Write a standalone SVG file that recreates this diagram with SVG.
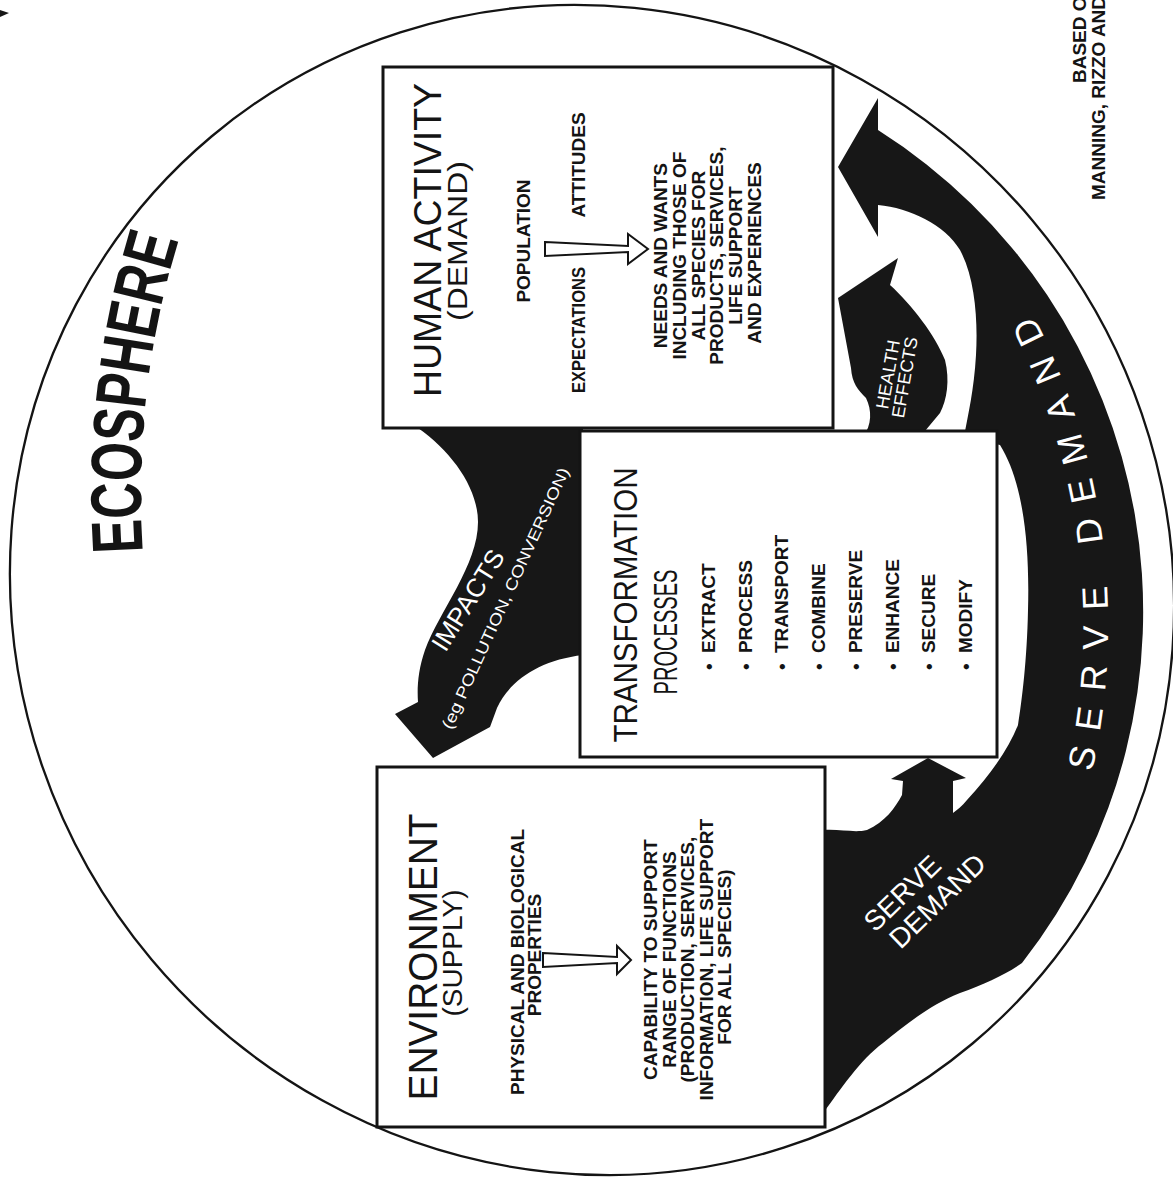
<svg xmlns="http://www.w3.org/2000/svg" width="1173" height="1190" viewBox="0 0 1173 1190">
<style>
text{font-family:'Liberation Sans',Arial,Helvetica,sans-serif;fill:#141414}
.box{fill:#fff;stroke:#141414;stroke-width:3}
.ink{fill:#171717}
.b{font-weight:bold;font-size:19px}
.w{fill:#fff}
.ha{fill:#fff;stroke:#141414;stroke-width:2}
</style>
<defs>
<path id="ecoPath" d="M 143 552 Q 132 390 180 236" fill="none"/>
<path id="sdPath" d="M 1092 772 A 680 680 0 0 0 1003 262" fill="none"/>
</defs>
<rect width="1173" height="1190" fill="#fff"/>
<ellipse id="ecosphere-boundary" cx="592" cy="590" rx="592" ry="575" transform="rotate(50 592 590)" fill="none" stroke="#141414" stroke-width="2.3"/>
<polygon points="0,10 9,13 0,17" class="ink"/>

<g id="ecosphere">
<text font-size="72" font-weight="bold"><textPath href="#ecoPath" textLength="316" lengthAdjust="spacingAndGlyphs">ECOSPHERE</textPath></text>
</g>

<g id="connectors">
<path id="impacts-arrow" class="ink" d="M 418 428 C 452 452, 478 488, 478 522 C 478 565, 440 610, 425 650 C 418 670, 417 688, 418 702 L 395 714 L 433 758 L 490 727 L 497 708 C 510 680, 540 660, 583 655 L 583 428 Z"/>
<path id="serve-demand-arrow" class="ink" d="M 824 1112 C 840 1090, 860 1060, 883 1043 C 905 1025, 930 1005, 960 993 C 985 984, 1005 975, 1022 963 A 570 570 0 0 0 878 130 L 878 98 L 838 167 L 878 237 L 878 205 C 910 208, 945 225, 960 250 C 975 278, 978 320, 976 355 C 974 390, 968 415, 964 437 L 1000 445 C 1022 480, 1030 540, 1028 610 C 1027 660, 1022 700, 1018 725 C 1008 750, 990 775, 967 800 C 962 806, 957 810, 953 813 L 953 781 L 966 778 L 928 758 L 891 779 L 903 781 L 902 795 C 895 808, 885 822, 867 830 C 855 833, 840 829, 824 830 Z"/>
<path id="health-effects-arrow" class="ink" d="M 863 437 C 872 425, 872 410, 866 398 C 858 390, 852 383, 851 368 L 838 298 L 898 258 L 890 285 C 912 305, 935 335, 945 360 C 950 380, 947 400, 940 413 L 920 437 Z"/>
<text class="w" font-size="26" transform="translate(468 600) rotate(-58)" text-anchor="middle" y="9">IMPACTS</text>
<text class="w" font-size="16" transform="translate(505 598) rotate(-65.5)" text-anchor="middle" y="6" textLength="285" lengthAdjust="spacingAndGlyphs">(eg POLLUTION, CONVERSION)</text>
<text class="w" font-size="18" transform="translate(897 376) rotate(-80)" text-anchor="middle"><tspan x="0" y="-3">HEALTH</tspan><tspan x="0" y="14">EFFECTS</tspan></text>
<text class="w" font-size="36"><textPath href="#sdPath" textLength="470" lengthAdjust="spacing">SERVE DEMAND</textPath></text>
<text class="w" font-size="28" transform="translate(902 893) rotate(-44)" text-anchor="middle"><tspan x="0" y="10">SERVE</tspan><tspan x="20" y="40">DEMAND</tspan></text>
</g>

<g id="human-activity">
<rect class="box" x="383" y="67" width="450" height="361"/>
<text font-size="39" transform="translate(441 240) rotate(-90)" text-anchor="middle" textLength="314" lengthAdjust="spacingAndGlyphs">HUMAN ACTIVITY</text>
<text font-size="27" transform="translate(467 241) rotate(-90)" text-anchor="middle" textLength="160" lengthAdjust="spacingAndGlyphs">(DEMAND)</text>
<text class="b" transform="translate(530 241) rotate(-90)" text-anchor="middle">POPULATION</text>
<text class="b" transform="translate(585 330) rotate(-90)" text-anchor="middle" textLength="126" lengthAdjust="spacingAndGlyphs">EXPECTATIONS</text>
<text class="b" transform="translate(585 165) rotate(-90)" text-anchor="middle">ATTITUDES</text>
<path class="ha" d="M545 242 L628 246 L628 234 L648 249 L628 264 L628 252 L545 256 Z"/>
<text class="b" transform="translate(0 253) rotate(-90)" text-anchor="middle">
<tspan x="0" y="667">NEEDS AND WANTS</tspan>
<tspan x="0" y="686">INCLUDING THOSE OF</tspan>
<tspan x="0" y="704.5">ALL SPECIES FOR</tspan>
<tspan x="0" y="723">PRODUCTS, SERVICES,</tspan>
<tspan x="0" y="742">LIFE SUPPORT</tspan>
<tspan x="0" y="761">AND EXPERIENCES</tspan>
</text>
</g>

<g id="transformation-processes">
<rect class="box" x="580" y="431" width="417" height="326"/>
<text font-size="33" transform="translate(637 605) rotate(-90)" text-anchor="middle" textLength="275" lengthAdjust="spacingAndGlyphs">TRANSFORMATION</text>
<text font-size="33" transform="translate(677 632) rotate(-90)" text-anchor="middle" textLength="125" lengthAdjust="spacingAndGlyphs">PROCESSES</text>
<text class="b" transform="translate(0 670) rotate(-90)">
<tspan x="0" y="715">• <tspan dx="5">EXTRACT</tspan></tspan>
<tspan x="0" y="751.7">• <tspan dx="5">PROCESS</tspan></tspan>
<tspan x="0" y="788.4">• <tspan dx="5">TRANSPORT</tspan></tspan>
<tspan x="0" y="825.1">• <tspan dx="5">COMBINE</tspan></tspan>
<tspan x="0" y="861.8">• <tspan dx="5">PRESERVE</tspan></tspan>
<tspan x="0" y="898.5">• <tspan dx="5">ENHANCE</tspan></tspan>
<tspan x="0" y="935.2">• <tspan dx="5">SECURE</tspan></tspan>
<tspan x="0" y="971.9">• <tspan dx="5">MODIFY</tspan></tspan>
</text>
</g>

<g id="environment">
<rect class="box" x="377" y="767" width="448" height="360"/>
<text font-size="41" transform="translate(437 957) rotate(-90)" text-anchor="middle" textLength="287" lengthAdjust="spacingAndGlyphs">ENVIRONMENT</text>
<text font-size="27" transform="translate(462 953) rotate(-90)" text-anchor="middle" textLength="127" lengthAdjust="spacingAndGlyphs">(SUPPLY)</text>
<text class="b" transform="translate(524 962) rotate(-90)" text-anchor="middle">PHYSICAL AND BIOLOGICAL</text>
<text class="b" transform="translate(541 955) rotate(-90)" text-anchor="middle">PROPERTIES</text>
<path class="ha" d="M543 953 L617 957 L617 946 L631 960 L617 974 L617 963 L543 967 Z"/>
<text class="b" transform="translate(0 957) rotate(-90)" text-anchor="middle">
<tspan x="0" y="657">CAPABILITY TO SUPPORT</tspan>
<tspan x="0" y="675.5">RANGE OF FUNCTIONS</tspan>
<tspan x="0" y="694">(PRODUCTION, SERVICES,</tspan>
<tspan x="0" y="712.5">INFORMATION, LIFE SUPPORT</tspan>
<tspan x="0" y="731">FOR ALL SPECIES)</tspan>
</text>
</g>

<g id="credit">
<text class="b" font-size="18" transform="translate(1086 83) rotate(-90)">BASED ON</text>
<text class="b" font-size="18" transform="translate(1105 200) rotate(-90)">MANNING, RIZZO AND</text>
</g>
</svg>
